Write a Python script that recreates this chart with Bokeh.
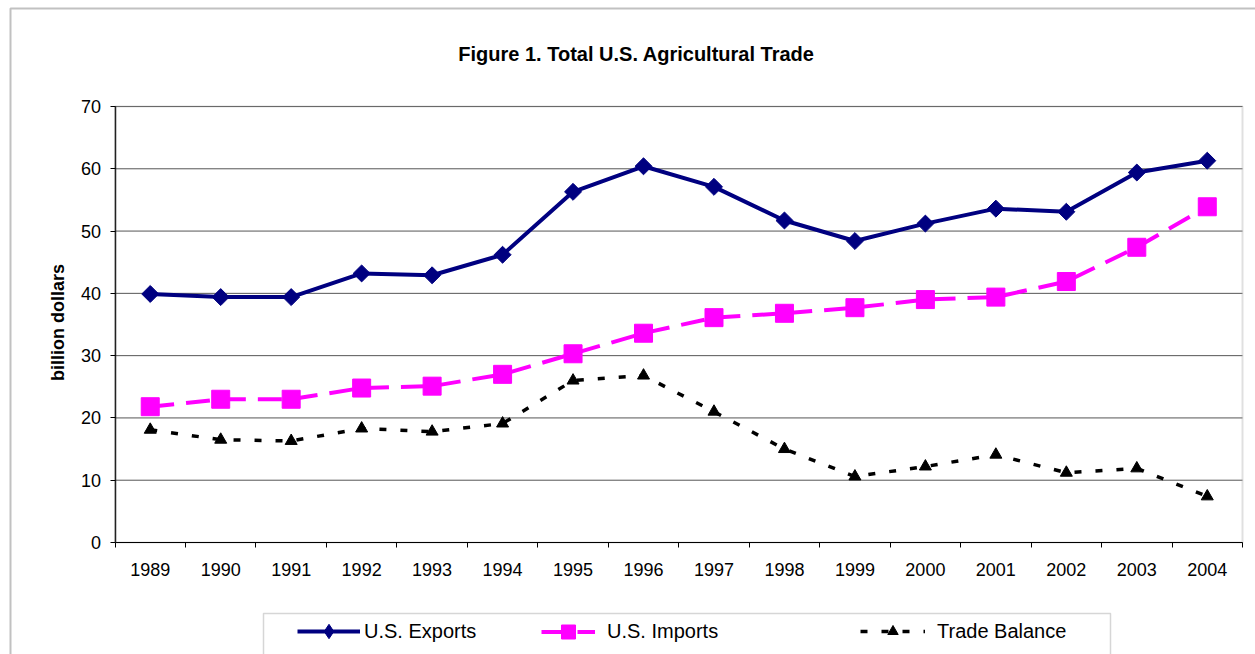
import math
from bokeh.plotting import figure
from bokeh.models import (FixedTicker, Legend, LegendItem, BoxAnnotation,
                          Range1d, Label, LinearAxis)
from bokeh.embed import file_html
from bokeh.resources import INLINE

years = [1989, 1990, 1991, 1992, 1993, 1994, 1995, 1996,
         1997, 1998, 1999, 2000, 2001, 2002, 2003, 2004]
exports = [39.9, 39.4, 39.4, 43.2, 42.9, 46.2, 56.3, 60.4,
           57.1, 51.7, 48.4, 51.2, 53.6, 53.1, 59.4, 61.3]
imports = [21.8, 23.0, 23.0, 24.8, 25.1, 27.0, 30.3, 33.6,
           36.1, 36.8, 37.7, 39.0, 39.4, 41.9, 47.4, 53.9]
balance = [18.1, 16.5, 16.3, 18.3, 17.8, 19.1, 26.0, 26.8,
           21.0, 15.0, 10.6, 12.2, 14.1, 11.2, 11.9, 7.4]
y_ticks = [0, 10, 20, 30, 40, 50, 60, 70]
title_text = "Figure 1. Total U.S. Agricultural Trade"
y_label = "billion dollars"
series_names = ["U.S. Exports", "U.S. Imports", "Trade Balance"]

# ---- layout (page pixels) ----
W, H = 1255, 654
FONT = "Liberation Sans"
FR_L, FR_T = 8, 6                 # frame (whole drawing area) origin
PA_L, PA_R = 114.5, 1242.0        # inner plot area, horizontal
PA_T, PA_B = 106.0, 542.0         # inner plot area, vertical

x0, x1 = years[0] - 0.5, years[-1] + 0.5
y0, y1 = y_ticks[0], y_ticks[-1]
kx = (PA_R - PA_L) / (x1 - x0)
ky = (PA_B - PA_T) / (y1 - y0)
xr = Range1d(x0 - (PA_L - FR_L) / kx, x1 + (W - PA_R) / kx)
yr = Range1d(y0 - (H - PA_B) / ky, y1 + (PA_T - FR_T) / ky)

p = figure(width=W, height=H, output_backend="svg", toolbar_location=None,
           x_range=xr, y_range=yr, x_axis_type=None, y_axis_type=None,
           min_border_left=FR_L, min_border_right=0,
           min_border_top=FR_T, min_border_bottom=0)
p.background_fill_color = "white"
p.border_fill_color = "white"
p.outline_line_color = None
p.grid.visible = False

# outer chart frame and legend box (canvas units: y measured from top)
p.add_layout(BoxAnnotation(left=10, right=W + 60, top=8, bottom=H + 60,
                           left_units="canvas", right_units="canvas",
                           top_units="canvas", bottom_units="canvas",
                           fill_alpha=0, line_color="#333333", line_width=2,
                           level="underlay"))
p.add_layout(BoxAnnotation(left=263, right=1110, top=613, bottom=H + 60,
                           left_units="canvas", right_units="canvas",
                           top_units="canvas", bottom_units="canvas",
                           fill_alpha=0, line_color="#777777", line_width=1.5,
                           level="underlay"))

# gridlines and plot-area border
p.segment(x0=[x0] * len(y_ticks), x1=[x1] * len(y_ticks), y0=y_ticks, y1=y_ticks,
          line_color="#555555", line_width=1, level="underlay")
p.add_layout(BoxAnnotation(left=x0, right=x1, bottom=y0, top=y1,
                           fill_alpha=0, line_color="#999999", line_width=2,
                           level="underlay"))

# axes at fixed locations with bounds
xa = LinearAxis(fixed_location=y0, bounds=(x0, x1))
xa.ticker = FixedTicker(ticks=years,
                        minor_ticks=[y - 0.5 for y in years] + [years[-1] + 0.5])
xa.major_label_overrides = {y: str(y) for y in years}
xa.major_tick_out = 0
xa.major_tick_in = 0
xa.minor_tick_out = 5
xa.minor_tick_in = 0
xa.minor_tick_line_color = "black"
xa.axis_line_color = "black"
xa.major_label_text_font = FONT
xa.major_label_text_font_size = "18px"
xa.major_label_text_color = "black"
xa.major_label_standoff = 15
p.add_layout(xa, "below")

ya = LinearAxis(fixed_location=x0, bounds=(y0, y1))
ya.ticker = FixedTicker(ticks=y_ticks)
ya.major_tick_out = 5
ya.major_tick_in = 0
ya.minor_tick_line_color = None
ya.axis_line_color = "#222222"
ya.axis_line_width = 1.5
ya.major_label_text_font = FONT
ya.major_label_text_font_size = "18px"
ya.major_label_text_color = "black"
ya.major_label_standoff = 9
p.add_layout(ya, "left")

# series
l1 = p.line(years, exports, line_color="#000080", line_width=4)
s1 = p.scatter(years, exports, marker="square", size=12, angle=math.pi / 4,
               fill_color="#000080", line_color="#000080")
s1_leg = p.scatter(years, exports, marker="diamond", size=14,
                   fill_color="#000080", line_color="#000080", visible=False)
l2 = p.line(years, imports, line_color="#FF00FF", line_width=4,
            line_dash="24 12")
s2 = p.scatter(years, imports, marker="square", size=18,
               fill_color="#FF00FF", line_color="#FF00FF")
l3 = p.line(years, balance, line_color="black", line_width=3.5,
            line_dash="7 14")
s3 = p.scatter(years, balance, marker="triangle", size=12,
               fill_color="black", line_color="black")

# title and y label
p.add_layout(Label(x=636, y=53, x_units="canvas", y_units="canvas",
                   text=title_text, text_align="center", text_baseline="middle",
                   text_font=FONT, text_font_size="20px",
                   text_font_style="bold", text_color="black"))
p.add_layout(Label(x=57, y=322, x_units="canvas", y_units="canvas",
                   text=y_label, angle=math.pi / 2, text_align="center",
                   text_baseline="middle", text_font=FONT,
                   text_font_size="18px", text_font_style="bold",
                   text_color="black"))

# legends (one per entry, inside the legend box)
leg_center = 631
specs = [(series_names[0], [l1, s1_leg], 297, 63, 4, 36),
         (series_names[1], [l2, s2], 541, 54, 12, 35),
         (series_names[2], [l3, s3], 860, 65, 12, 26)]
for name, rends, gx, gw, st, gh in specs:
    lg = Legend(items=[LegendItem(label=name, renderers=rends)],
                location=(gx - FR_L, H - (leg_center + gh / 2)),
                orientation="horizontal", glyph_width=gw, glyph_height=gh,
                label_standoff=st, padding=0, margin=0, spacing=0,
                border_line_color=None, background_fill_alpha=0,
                label_text_font=FONT, label_text_font_size="20px",
                label_text_color="black", label_height=gh)
    p.add_layout(lg, "center")

open("out.html", "w").write(file_html(p, INLINE))
